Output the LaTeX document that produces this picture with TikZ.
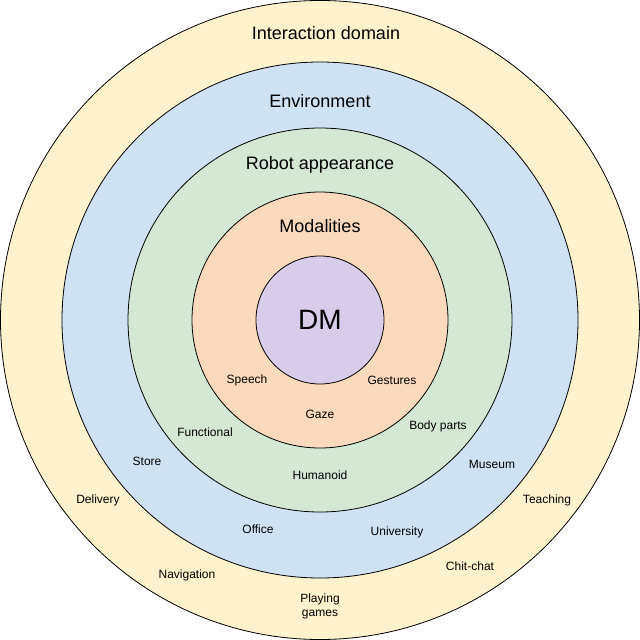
\documentclass[tikz,border=0pt]{standalone}
\usepackage{fontspec}
\setmainfont{Liberation Sans}
\definecolor{cA}{HTML}{FFF2CC}
\definecolor{cB}{HTML}{CFE2F3}
\definecolor{cC}{HTML}{D5E8D4}
\definecolor{cD}{HTML}{FAD9BC}
\definecolor{cE}{HTML}{D9CCEA}
\begin{document}
\begin{tikzpicture}[x=1pt,y=-1pt,
  ring/.style={draw=black,line width=0.8pt},
  big/.style={font=\fontsize{18}{20}\selectfont},
  sm/.style={font=\fontsize{12}{14}\selectfont,align=center}]
\useasboundingbox (0,0) rectangle (640,640);
\fill[cA,ring] (320,320) circle (319.5);
\fill[cB,ring] (320,320) circle (258);
\fill[cC,ring] (320,320) circle (192);
\fill[cD,ring] (320,320) circle (128);
\fill[cE,ring] (320,320) circle (64);
\node[big] (t1) at (326,33) {Interaction domain};
\node[big] (t2) at (320,101) {Environment};
\node[big] (t3) at (320,165) {Robot appearance};
\node[big] (t4) at (320,226) {Modalities};
\node[font=\fontsize{28}{30}\selectfont] (dm) at (320,320) {DM};
\node[sm] (a1) at (247,380) {Speech};
\node[sm] (a2) at (392,380) {Gestures};
\node[sm] (a3) at (320,414) {Gaze};
\node[sm] (b1) at (205,432) {Functional};
\node[sm] (b2) at (438,426) {Body parts};
\node[sm] (b3) at (320,475) {Humanoid};
\node[sm] (c1) at (147,461) {Store};
\node[sm] (c2) at (492,464) {Museum};
\node[sm] (c3) at (258,529) {Office};
\node[sm] (c4) at (397,532) {University};
\node[sm] (d1) at (98,500) {Delivery};
\node[sm] (d2) at (547,500) {Teaching};
\node[sm] (d3) at (187,575) {Navigation};
\node[sm] (d4) at (470,566) {Chit-chat};
\node[sm] (d5) at (320,606) {Playing\\games};
\end{tikzpicture}
\end{document}
